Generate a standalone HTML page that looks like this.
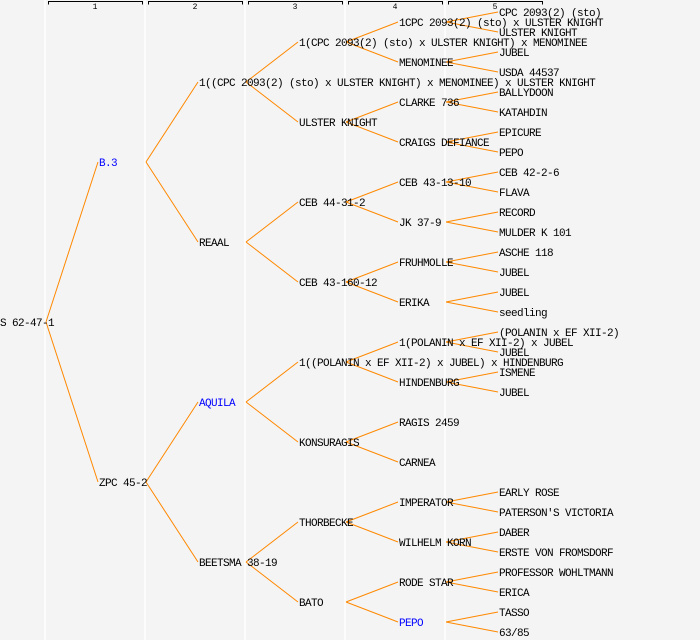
<!DOCTYPE html>
<html><head><meta charset="utf-8"><style>
html,body{margin:0;padding:0;background:#f4f4f4;}
svg{display:block;}
text{font-family:"Liberation Mono",monospace;font-size:11px;letter-spacing:-0.6px;fill:#000;}
.b{fill:#0000ff;}
.h{font-size:8px;letter-spacing:0;text-anchor:middle;}
</style></head><body>
<svg width="700" height="640" xmlns="http://www.w3.org/2000/svg">
<rect width="700" height="640" fill="#f4f4f4"/>
<g stroke="#ffffff" stroke-width="1.5">
<line x1="45" y1="0" x2="45" y2="640"/><line x1="145" y1="0" x2="145" y2="640"/><line x1="245" y1="0" x2="245" y2="640"/><line x1="345" y1="0" x2="345" y2="640"/><line x1="445" y1="0" x2="445" y2="640"/>
</g>
<g stroke="#000" stroke-width="1" fill="none">
<path d="M48.5 4.5V1.5H142.5V4.5"/><path d="M148.5 4.5V1.5H242.5V4.5"/><path d="M248.5 4.5V1.5H342.5V4.5"/><path d="M348.5 4.5V1.5H442.5V4.5"/><path d="M448.5 4.5V1.5H542.5V4.5"/>
</g>
<text class="h" x="95" y="9">1</text><text class="h" x="195" y="9">2</text><text class="h" x="295" y="9">3</text><text class="h" x="395" y="9">4</text><text class="h" x="495" y="9">5</text>
<g stroke="#ff8800" stroke-width="1" fill="none">
<path d="M46 322L98 162M46 322L98 482"/>
<path d="M146 162L198 82M146 162L198 242M146 482L198 402M146 482L198 562"/>
<path d="M246 82L298 42M246 82L298 122M246 242L298 202M246 242L298 282M246 402L298 362M246 402L298 442M246 562L298 522M246 562L298 602"/>
<path d="M346 42L398 22M346 42L398 62M346 122L398 102M346 122L398 142M346 202L398 182M346 202L398 222M346 282L398 262M346 282L398 302M346 362L398 342M346 362L398 382M346 442L398 422M346 442L398 462M346 522L398 502M346 522L398 542M346 602L398 582M346 602L398 622"/>
<path d="M446 22L498 12M446 22L498 32M446 62L498 52M446 62L498 72M446 102L498 92M446 102L498 112M446 142L498 132M446 142L498 152M446 182L498 172M446 182L498 192M446 222L498 212M446 222L498 232M446 262L498 252M446 262L498 272M446 302L498 292M446 302L498 312M446 342L498 332M446 342L498 352M446 382L498 372M446 382L498 392M446 502L498 492M446 502L498 512M446 542L498 532M446 542L498 552M446 582L498 572M446 582L498 592M446 622L498 612M446 622L498 632"/>
</g>
<g transform="translate(0,-1)">
<text x="0" y="327">S 62-47-1</text>
<text class="b" x="99" y="167">B.3</text>
<text x="99" y="487">ZPC 45-2</text>
<text x="199" y="87">1((CPC 2093(2) (sto) x ULSTER KNIGHT) x MENOMINEE) x ULSTER KNIGHT</text>
<text x="199" y="247">REAAL</text>
<text class="b" x="199" y="407">AQUILA</text>
<text x="199" y="567">BEETSMA 38-19</text>
<text x="299" y="47">1(CPC 2093(2) (sto) x ULSTER KNIGHT) x MENOMINEE</text>
<text x="299" y="127">ULSTER KNIGHT</text>
<text x="299" y="207">CEB 44-31-2</text>
<text x="299" y="287">CEB 43-160-12</text>
<text x="299" y="367">1((POLANIN x EF XII-2) x JUBEL) x HINDENBURG</text>
<text x="299" y="447">KONSURAGIS</text>
<text x="299" y="527">THORBECKE</text>
<text x="299" y="607">BATO</text>
<text x="399" y="27">1CPC 2093(2) (sto) x ULSTER KNIGHT</text>
<text x="399" y="67">MENOMINEE</text>
<text x="399" y="107">CLARKE 736</text>
<text x="399" y="147">CRAIGS DEFIANCE</text>
<text x="399" y="187">CEB 43-13-10</text>
<text x="399" y="227">JK 37-9</text>
<text x="399" y="267">FRUHMOLLE</text>
<text x="399" y="307">ERIKA</text>
<text x="399" y="347">1(POLANIN x EF XII-2) x JUBEL</text>
<text x="399" y="387">HINDENBURG</text>
<text x="399" y="427">RAGIS 2459</text>
<text x="399" y="467">CARNEA</text>
<text x="399" y="507">IMPERATOR</text>
<text x="399" y="547">WILHELM KORN</text>
<text x="399" y="587">RODE STAR</text>
<text class="b" x="399" y="627">PEPO</text>
<text x="499" y="17">CPC 2093(2) (sto)</text>
<text x="499" y="37">ULSTER KNIGHT</text>
<text x="499" y="57">JUBEL</text>
<text x="499" y="77">USDA 44537</text>
<text x="499" y="97">BALLYDOON</text>
<text x="499" y="117">KATAHDIN</text>
<text x="499" y="137">EPICURE</text>
<text x="499" y="157">PEPO</text>
<text x="499" y="177">CEB 42-2-6</text>
<text x="499" y="197">FLAVA</text>
<text x="499" y="217">RECORD</text>
<text x="499" y="237">MULDER K 101</text>
<text x="499" y="257">ASCHE 118</text>
<text x="499" y="277">JUBEL</text>
<text x="499" y="297">JUBEL</text>
<text x="499" y="317">seedling</text>
<text x="499" y="337">(POLANIN x EF XII-2)</text>
<text x="499" y="357">JUBEL</text>
<text x="499" y="377">ISMENE</text>
<text x="499" y="397">JUBEL</text>
<text x="499" y="497">EARLY ROSE</text>
<text x="499" y="517">PATERSON'S VICTORIA</text>
<text x="499" y="537">DABER</text>
<text x="499" y="557">ERSTE VON FROMSDORF</text>
<text x="499" y="577">PROFESSOR WOHLTMANN</text>
<text x="499" y="597">ERICA</text>
<text x="499" y="617">TASSO</text>
<text x="499" y="637">63/85</text>
</g>
</svg>
</body></html>
